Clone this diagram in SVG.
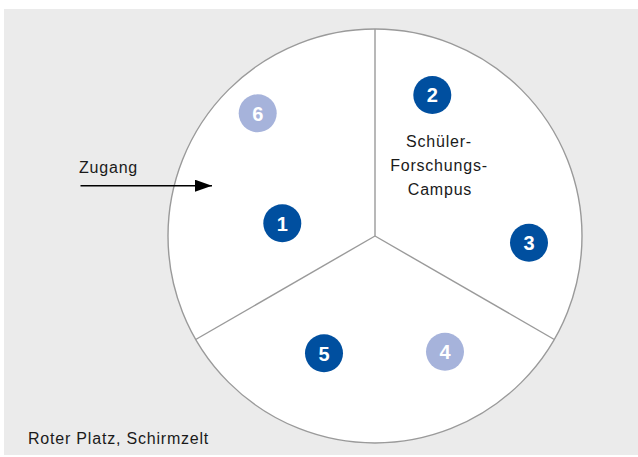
<svg xmlns="http://www.w3.org/2000/svg" width="638" height="457" viewBox="0 0 638 457">
<style>
.lbl{font-family:"Liberation Sans",Arial,sans-serif;font-size:16px;fill:#1a1a1a;letter-spacing:0.8px}
.num{font-family:"Liberation Sans",Arial,sans-serif;font-size:20px;font-weight:bold;fill:#ffffff;text-anchor:middle}
.dark{fill:#004f9f}
.light{fill:#a6b3db}
.div{stroke:#9a9a9a;stroke-width:1.4;fill:none}
.plaza{stroke:#9a9a9a;stroke-width:1.4;fill:#ffffff}
</style>
<defs>
<marker id="ah" viewBox="0 0 17 12" refX="17" refY="6" markerWidth="17" markerHeight="12" markerUnits="userSpaceOnUse" orient="auto">
<path d="M0,0 L17,6 L0,12 Z" fill="#000"/>
</marker>
</defs>
<rect x="4" y="9" width="634" height="446" fill="#ebebeb"/>
<g id="plaza">
<circle class="plaza" cx="375" cy="236" r="207"/>
</g>
<g id="connectors">
<line class="div" x1="375" y1="29" x2="375" y2="236"/>
<line class="div" x1="375" y1="236" x2="195.7" y2="339.5"/>
<line class="div" x1="375" y1="236" x2="554.3" y2="339.5"/>
<line x1="80.5" y1="185.7" x2="212" y2="185.7" stroke="#000" stroke-width="1.5" marker-end="url(#ah)"/>
</g>
<g id="zugang"><text class="lbl" x="79" y="173" letter-spacing="1.4">Zugang</text></g>
<g id="n1"><circle class="dark" cx="282.3" cy="223.3" r="19"/><text class="num" x="282.3" y="230.5">1</text></g>
<g id="n2"><circle class="dark" cx="432.3" cy="95" r="19"/><text class="num" x="432.3" y="102.2">2</text></g>
<g id="campus"><text class="lbl" text-anchor="middle" x="439" y="147">Schüler-</text><text class="lbl" text-anchor="middle" x="439" y="171">Forschungs-</text><text class="lbl" text-anchor="middle" x="440" y="195">Campus</text></g>
<g id="n3"><circle class="dark" cx="529" cy="242.7" r="19"/><text class="num" x="529" y="249.9">3</text></g>
<g id="n4"><circle class="light" cx="445" cy="351.7" r="19"/><text class="num" x="445" y="358.9">4</text></g>
<g id="n5"><circle class="dark" cx="324" cy="353.3" r="19"/><text class="num" x="324" y="360.5">5</text></g>
<g id="n6"><circle class="light" cx="257.7" cy="113.3" r="19"/><text class="num" x="257.7" y="120.5">6</text></g>
<g id="caption"><text class="lbl" x="28" y="444">Roter Platz, Schirmzelt</text></g>
</svg>
